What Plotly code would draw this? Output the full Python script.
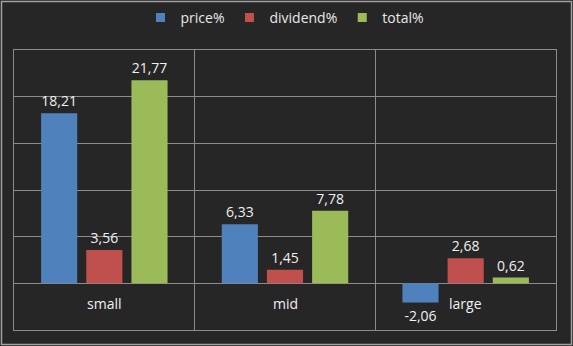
import plotly.graph_objects as go

categories = ["small", "mid", "large"]
series_names = ["price%", "dividend%", "total%"]
price = [18.21, 6.33, -2.06]
dividend = [3.56, 1.45, 2.68]
total = [21.77, 7.78, 0.62]
colors = ["#4f81bd", "#c0504d", "#9bbb59"]

W, H = 573, 346
ml, mr, mt, mb = 14, 17, 50, 16
pw, ph = W - ml - mr, H - mt - mb

fam = "Open Sans, Noto Sans, sans-serif"
font = dict(family=fam, size=14, color="#f0f0f0")

fig = go.Figure()
for name, vals, col in zip(series_names, [price, dividend, total], colors):
    fig.add_trace(go.Bar(
        x=categories, y=vals, name=name, marker_color=col, marker_line_width=0,
        text=[f"{v:.2f}".replace(".", ",") for v in vals],
        textposition="outside", cliponaxis=False, showlegend=False,
        textfont=dict(family=fam, size=14, color="#f0f0f0"),
    ))
# legend entries as small squares
for name, col in zip(series_names, colors):
    fig.add_trace(go.Scatter(
        x=[None], y=[None], mode="markers", name=name,
        marker=dict(symbol="square", size=9, color=col), showlegend=True,
    ))

annotations = [
    dict(x=c, y=0, xref="x", yref="y", text=c, showarrow=False, yshift=-20,
         font=dict(family=fam, size=14, color="#f0f0f0"))
    for c in categories
]

def px_x(p):
    return (p - ml) / pw

def px_y(p):
    return (H - mb - p) / ph

fig.update_layout(
    width=W, height=H,
    margin=dict(l=ml, r=mr, t=mt, b=mb, pad=0, autoexpand=False),
    paper_bgcolor="#262626", plot_bgcolor="#262626",
    font=font,
    barmode="group", bargap=0.25, bargroupgap=0.2,
    showlegend=True,
    legend=dict(orientation="h", x=0.5, xanchor="center", y=px_y(18), yanchor="middle",
                font=dict(family=fam, size=14, color="#e8e8e8"), itemwidth=30,
                traceorder="normal", bgcolor="rgba(0,0,0,0)", tracegroupgap=0),
    annotations=annotations,
    shapes=[dict(type="rect", xref="paper", yref="paper",
                 x0=px_x(1.5), x1=px_x(571.5), y0=px_y(344.5), y1=px_y(1.5),
                 line=dict(color="#a0a0a0", width=1.5), fillcolor="rgba(0,0,0,0)", layer="below")],
    xaxis=dict(type="category", tickson="boundaries", showgrid=True, gridcolor="#8c8c8c",
               gridwidth=1, showticklabels=False, ticks="", showline=True, mirror=True,
               linecolor="#8c8c8c", linewidth=1, zeroline=False),
    yaxis=dict(range=[-5, 25], dtick=5, tick0=0, showgrid=True, gridcolor="#8c8c8c",
               gridwidth=1, showticklabels=False, ticks="", showline=True, mirror=True,
               linecolor="#8c8c8c", linewidth=1, zeroline=True, zerolinecolor="#8c8c8c",
               zerolinewidth=1),
)

fig.write_html("out.html")
